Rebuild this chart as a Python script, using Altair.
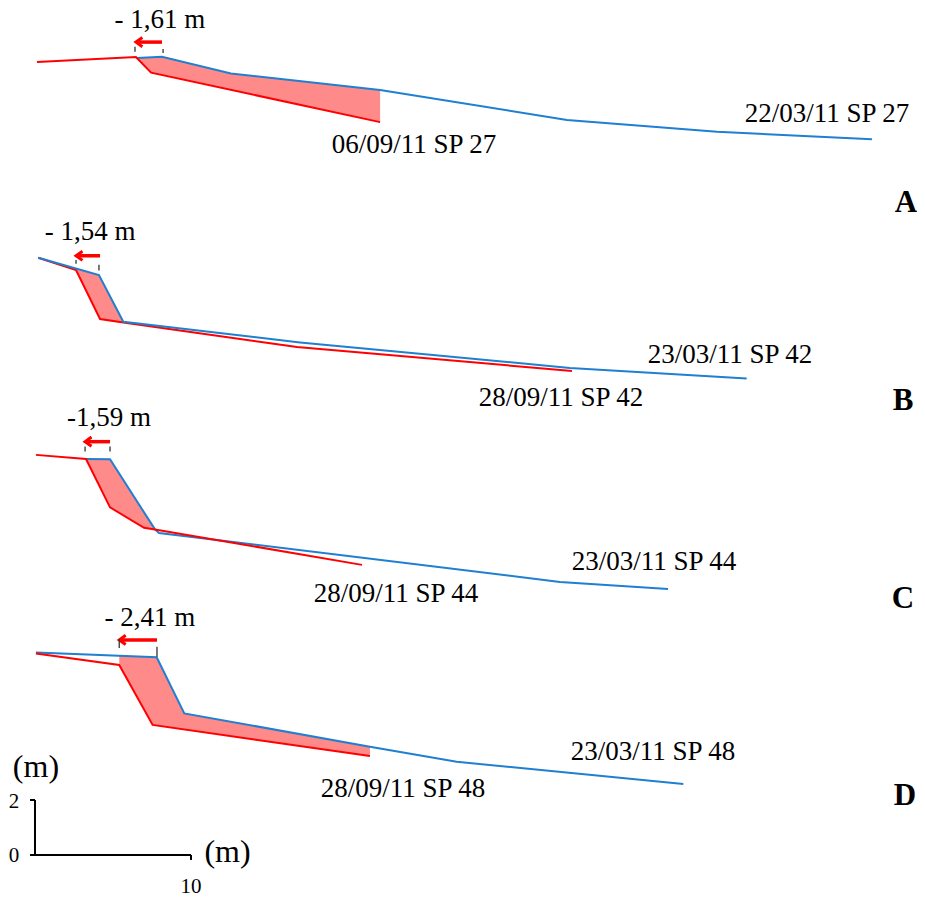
import altair as alt
import pandas as pd
import numpy as np

# ---------------- data (metres) ----------------
panels = ["A", "B", "C", "D"]
panel_offset = [26.0, 17.5, 10.0, 2.5]      # vertical stacking of the four profiles (m)
red_on_top = [True, False, True, True]

# older survey (blue)
a_blue_x = [6.54, 8.14, 12.56, 22.12, 34.10, 43.72, 53.65]
a_blue_z = [2.98, 3.03, 2.42, 1.82, 0.73, 0.30, 0.03]
b_blue_x = [0.21, 4.10, 5.66, 16.99, 34.29, 45.62]
b_blue_z = [4.22, 3.59, 1.89, 1.14, 0.21, -0.17]
c_blue_x = [3.27, 4.81, 7.69, 7.95, 33.65, 40.58]
c_blue_z = [4.40, 4.39, 1.84, 1.71, -0.07, -0.33]
d_blue_x = [0.06, 7.80, 9.57, 21.47, 27.03, 41.56]
d_blue_z = [4.86, 4.69, 2.65, 1.44, 0.89, 0.08]

# newer survey (red)
a_red_x = [0.13, 6.47, 7.44, 22.12]
a_red_z = [2.84, 3.02, 2.45, 0.65]
b_red_x = [0.21, 2.63, 4.17, 5.66, 16.79, 34.42]
b_red_z = [4.22, 3.77, 1.99, 1.86, 0.97, 0.10]
c_red_x = [0.06, 3.27, 4.81, 6.99, 7.69, 20.96]
c_red_z = [4.55, 4.40, 2.64, 1.90, 1.84, 0.55]
d_red_x = [0.06, 5.40, 7.54, 21.47]
d_red_z = [4.83, 4.41, 2.23, 1.10]

# eroded zone (x range)
fill_from = [6.54, 2.63, 3.27, 5.40]
fill_to = [22.12, 5.66, 7.69, 21.47]

# retreat arrows
retreat_text = ["- 1,61 m", "- 1,54 m", "-1,59 m", "- 2,41 m"]
retreat_text_x = [8.01, 3.53, 4.74, 7.37]
retreat_text_z = [4.08, 4.86, 5.60, 5.83]
arrow_tip_x = [6.47, 2.63, 3.21, 5.40]
arrow_tail_x = [8.14, 4.17, 4.81, 7.82]
arrow_z = [3.56, 4.29, 5.03, 5.32]
tick_l_x = [6.41, 2.63, 3.21, 5.40]
tick_l_z = [(3.39, 3.21), (4.14, 4.00), (4.85, 4.67), (5.35, 5.03)]
tick_r_x = [8.21, 4.10, 4.81, 7.82]
tick_r_z = [(3.31, 3.16), (3.96, 3.75), (4.85, 4.67), (5.07, 4.71)]

# profile labels
blue_label = ["22/03/11 SP 27", "23/03/11 SP 42", "23/03/11 SP 44", "23/03/11 SP 48"]
blue_label_x = [50.77, 44.55, 39.68, 39.62]
blue_label_z = [0.67, 0.39, 0.36, 0.95]
red_label = ["06/09/11 SP 27", "28/09/11 SP 42", "28/09/11 SP 44", "28/09/11 SP 48"]
red_label_x = [24.29, 33.72, 23.14, 23.59]
red_label_z = [-0.47, -1.17, -0.80, -0.38]
letter_x = [55.83, 55.64, 55.64, 55.77]
letter_z = [-2.62, -1.32, -1.02, -0.68]

# scale bar
bar_len_x = 10
bar_len_y = 2

BLUE = "#1f7fd0"
RED = "#ff0000"
PINK = "#ff8a8a"
FONT = "Liberation Serif"

# ---------------- build tables ----------------
blues = [(a_blue_x, a_blue_z), (b_blue_x, b_blue_z), (c_blue_x, c_blue_z), (d_blue_x, d_blue_z)]
reds = [(a_red_x, a_red_z), (b_red_x, b_red_z), (c_red_x, c_red_z), (d_red_x, d_red_z)]

rows = []
fill_rows = []
for i, p in enumerate(panels):
    off = panel_offset[i]
    for ser, (xx, zz) in (("blue", blues[i]), ("red", reds[i])):
        top = (ser == "red") == red_on_top[i]
        for k, (x, z) in enumerate(zip(xx, zz)):
            rows.append({"panel": p, "series": ser, "key": p + ser, "k": k,
                         "x": x, "y": z + off, "top": int(top)})
    bx, bz = blues[i]
    rx, rz = reds[i]
    xs_ = sorted(set([v for v in bx + rx if fill_from[i] <= v <= fill_to[i]] + [fill_from[i], fill_to[i]]))
    for x in xs_:
        fill_rows.append({"panel": p, "x": x,
                          "y": float(np.interp(x, bx, bz)) + off,
                          "y2": float(np.interp(x, rx, rz)) + off})
prof = pd.DataFrame(rows)
fill = pd.DataFrame(fill_rows)

arrows = pd.DataFrame({
    "panel": panels,
    "tip": arrow_tip_x,
    "shaft0": [t + 0.15 for t in arrow_tip_x],
    "tail": arrow_tail_x,
    "y": [z + o for z, o in zip(arrow_z, panel_offset)],
})
ticks = pd.DataFrame({
    "x": tick_l_x + tick_r_x,
    "y": [a + o for (a, b), o in zip(tick_l_z, panel_offset)] + [a + o for (a, b), o in zip(tick_r_z, panel_offset)],
    "y2": [b + o for (a, b), o in zip(tick_l_z, panel_offset)] + [b + o for (a, b), o in zip(tick_r_z, panel_offset)],
})
labels = pd.DataFrame({
    "text": retreat_text + blue_label + red_label,
    "x": retreat_text_x + blue_label_x + red_label_x,
    "y": [z + o for z, o in zip(retreat_text_z + blue_label_z + red_label_z, panel_offset * 3)],
})
letters = pd.DataFrame({
    "text": panels, "x": letter_x,
    "y": [z + o for z, o in zip(letter_z, panel_offset)],
})
bar_lines = pd.DataFrame({
    "x": [0, -0.32, -0.32, bar_len_x],
    "x2": [0, 0, bar_len_x, bar_len_x],
    "y": [0, bar_len_y, 0, 0],
    "y2": [bar_len_y, bar_len_y, 0, -0.18],
})
bar_nums_side = pd.DataFrame({
    "text": [str(bar_len_y), "0"],
    "x": [-1.69, -1.69],
    "y": [1.71, -0.24],
})
bar_nums_bottom = pd.DataFrame({"text": [str(bar_len_x)], "x": [bar_len_x], "y": [-1.37]})
bar_units = pd.DataFrame({"text": ["(m)", "(m)"], "x": [0.06, 12.34], "y": [2.84, -0.25]})

# ---------------- chart ----------------
xsc = alt.Scale(domain=[-1.7308, 56.5385], nice=False, zero=False)
ysc = alt.Scale(domain=[-1.4182, 30.8], nice=False, zero=False)


def X(f):
    return alt.X(f, type="quantitative", scale=xsc, axis=None)


def Y(f):
    return alt.Y(f, type="quantitative", scale=ysc, axis=None)


color = alt.Color("series:N", scale=alt.Scale(domain=["blue", "red"], range=[BLUE, RED]), legend=None)

area = alt.Chart(fill).mark_area(color=PINK, opacity=1, interpolate="linear").encode(
    x=X("x"), y=Y("y"), y2="y2", detail="panel:N")

line_under = alt.Chart(prof[prof.top == 0]).mark_line(strokeWidth=2).encode(
    x=X("x"), y=Y("y"), color=color, detail="key:N", order="k:Q")
line_over = alt.Chart(prof[prof.top == 1]).mark_line(strokeWidth=2).encode(
    x=X("x"), y=Y("y"), color=color, detail="key:N", order="k:Q")

shaft = alt.Chart(arrows).mark_rule(color=RED, strokeWidth=3.5).encode(
    x=X("shaft0"), x2="tail", y=Y("y"))
head = alt.Chart(arrows).mark_point(
    shape="M 1.4 -1 L 0 0 L 1.4 1", filled=False, stroke=RED, strokeWidth=3,
    size=85, opacity=1).encode(x=X("tip"), y=Y("y"))
tick_marks = alt.Chart(ticks).mark_rule(color="#333333", strokeWidth=1.3).encode(
    x=X("x"), y=Y("y"), y2="y2")

text_main = alt.Chart(labels).mark_text(font=FONT, fontSize=27, align="center",
                                        baseline="alphabetic", color="black").encode(
    x=X("x"), y=Y("y"), text="text:N")
text_letters = alt.Chart(letters).mark_text(font=FONT, fontSize=31, fontWeight="bold",
                                            align="center", baseline="alphabetic",
                                            color="black").encode(
    x=X("x"), y=Y("y"), text="text:N")

bar = alt.Chart(bar_lines).mark_rule(color="black", strokeWidth=2).encode(
    x=X("x"), x2="x2", y=Y("y"), y2="y2")
bar_t1 = alt.Chart(bar_nums_side).mark_text(font=FONT, fontSize=21, align="left",
                                            baseline="alphabetic", color="black").encode(
    x=X("x"), y=Y("y"), text="text:N")
bar_t2 = alt.Chart(bar_nums_bottom).mark_text(font=FONT, fontSize=21, align="center",
                                              baseline="alphabetic", color="black").encode(
    x=X("x"), y=Y("y"), text="text:N")
bar_u = alt.Chart(bar_units).mark_text(font=FONT, fontSize=32, align="center",
                                       baseline="alphabetic", color="black").encode(
    x=X("x"), y=Y("y"), text="text:N")

chart = alt.layer(area, line_under, line_over, shaft, head, tick_marks,
                  text_main, text_letters, bar, bar_t1, bar_t2, bar_u).properties(
    width=909, height=886, padding=0,
    autosize=alt.AutoSizeParams(type="none"),
    background="white",
).configure_view(stroke=None)

chart.save("out.html", embed_options={"renderer": "svg", "actions": False})
